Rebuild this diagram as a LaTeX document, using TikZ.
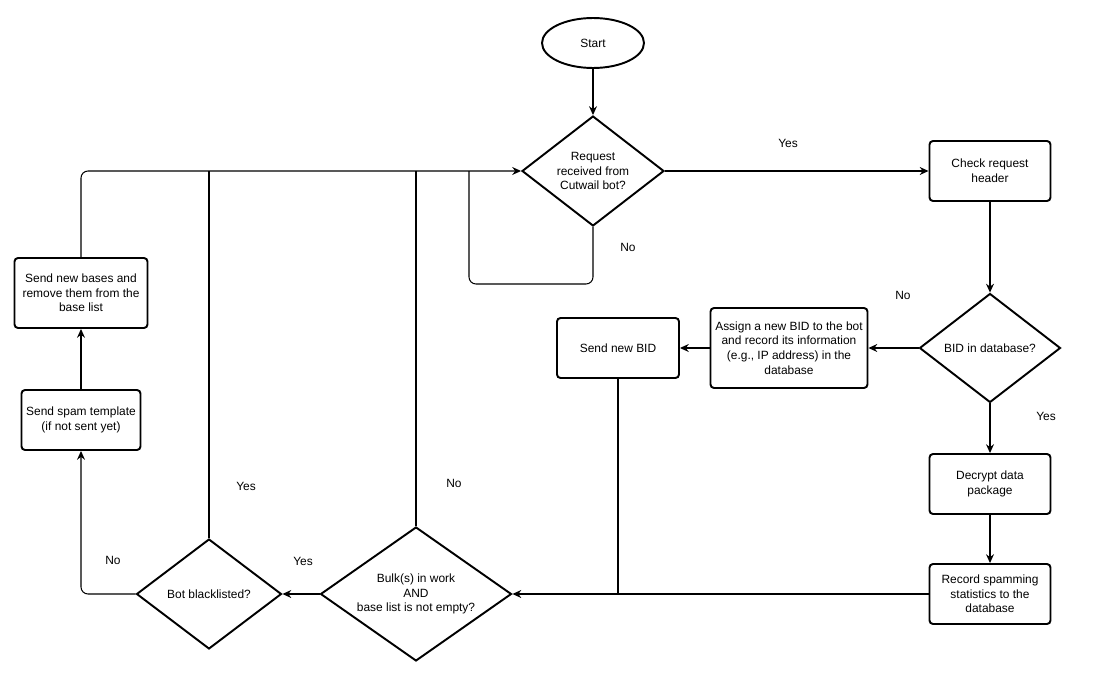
\documentclass[tikz,border=0pt]{standalone}
\usepackage{fontspec}
\setmainfont{Liberation Sans}
\usetikzlibrary{shapes, shapes.geometric, arrows.meta}

\begin{document}
\begin{tikzpicture}[x=0.02cm, y=-0.02cm,
        every node/.style={font=\fontsize{6.8}{8.3}\selectfont},
        process/.style={draw, line width=1.1pt, rounded corners=2pt, align=center, inner sep=1pt},
        decision/.style={draw, diamond, line width=1.1pt, align=center, inner sep=0pt},
        terminal/.style={draw, ellipse, line width=1.1pt, minimum width=2.04cm, minimum height=1cm},
        flow/.style={line width=0.6pt, -{Stealth[length=5pt, width=4.5pt]}},
        plain/.style={line width=0.6pt}]
            % Define dimensions
            \def\loopx{469}
            \def\loopy{284}
            \useasboundingbox (0,0) rectangle (1093,673);
            % Draw nodes
            \node[terminal] (start) at (593,43) {Start};
            \node[decision, minimum width=2.84cm, minimum height=2.2cm] (req) at (593,171) {Request\\received from\\Cutwail bot?};
            \node[process, minimum width=2.42cm, minimum height=1.2cm] (check) at (990,171) {Check request\\header};
            \node[decision, minimum width=2.82cm, minimum height=2.18cm] (bidq) at (990,348) {BID in database?};
            \node[process, minimum width=3.14cm, minimum height=1.6cm] (assign) at (789,348) {Assign a new BID to the bot\\and record its information\\(e.g., IP address) in the\\database};
            \node[process, minimum width=2.44cm, minimum height=1.2cm] (sendbid) at (618,348) {Send new BID};
            \node[process, minimum width=2.42cm, minimum height=1.2cm] (decrypt) at (990,484) {Decrypt data\\package};
            \node[process, minimum width=2.42cm, minimum height=1.2cm] (record) at (990,594) {Record spamming\\statistics to the\\database};
            \node[decision, aspect=1.43, minimum width=3.82cm, minimum height=2.68cm] (bulk) at (416,594) {Bulk(s) in work\\AND\\base list is not empty?};
            \node[decision, minimum width=2.9cm, minimum height=2.2cm] (black) at (209,594) {Bot blacklisted?};
            \node[process, minimum width=2.38cm, minimum height=1.2cm] (spam) at (81,420) {Send spam template\\(if not sent yet)};
            \node[process, minimum width=2.66cm, minimum height=1.4cm] (bases) at (81,293) {Send new bases and\\remove them from the\\base list};
            \coordinate (loop) at (\loopx,\loopy);
            % Draw connectors
            \draw[flow] (start) -- (req);
            \draw[flow] (req) -- (check);
            \draw[flow] (check) -- (bidq);
            \draw[flow] (bidq) -- (assign);
            \draw[flow] (assign) -- (sendbid);
            \draw[flow] (bidq) -- (decrypt);
            \draw[flow] (decrypt) -- (record);
            \draw[flow] (record) -- (bulk);
            \draw[plain] (sendbid.south) -- (sendbid.south |- bulk.east);
            \draw[flow] (bulk) -- (black);
            \draw[flow, rounded corners=4pt] (black.west) -| (spam.south);
            \draw[flow] (spam) -- (bases);
            \draw[flow, rounded corners=4pt] (bases.north) |- (req.west);
            \draw[plain] (black.north) -- (black.north |- req.west);
            \draw[plain] (bulk.north) -- (bulk.north |- req.west);
            \draw[plain, rounded corners=4pt] (req.south) |- (loop) -- (loop |- req.west);
            % Draw labels
            \node (yes1) at (788,143) {Yes};
            \node (no1) at (628,247) {No};
            \node (no2) at (903,295) {No};
            \node (yes2) at (1046,416) {Yes};
            \node (yes3) at (303,561) {Yes};
            \node (no3) at (113,560) {No};
            \node (yes4) at (246,486) {Yes};
            \node (no4) at (454,483) {No};
        \end{tikzpicture}
\end{document}
